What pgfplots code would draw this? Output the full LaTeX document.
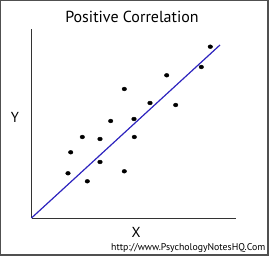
\documentclass[border=0pt]{standalone}
\usepackage{pgfplots}
\pgfplotsset{compat=1.18}
\usepackage{fontspec}
\setmainfont{PT Sans}
\definecolor{lineblue}{RGB}{45,35,190}
\definecolor{framegray}{RGB}{80,80,80}
\begin{document}
\begin{tikzpicture}[x=1pt,y=1pt]
\path[use as bounding box] (0,0) rectangle (269,256);
\draw[framegray, line width=1.5pt] (0.75,0.75) rectangle (268.25,255.25);
\begin{axis}[
  at={(31.5pt,38pt)}, anchor=south west,
  scale only axis, width=204.5pt, height=189pt,
  xmin=0, xmax=204.5, ymin=0, ymax=189,
  axis lines=left,
  axis line style={-, black!80, line width=0.8pt},
  ticks=none, clip=false,
]
\addplot[lineblue, line width=1.2pt] coordinates {(0,0) (188.5,173)};
\addplot[only marks, mark=*, mark size=2.3pt, mark options={fill=black, draw=black, yscale=0.82}] coordinates {
(178.8,171.3) (169.8,151) (135.2,142.7) (92.8,129) (118.5,115) (144.2,113)
(102.5,99) (79.2,97) (50.8,81) (68.5,79) (102.8,81) (39.2,65.7)
(68.5,56) (36.5,44.7) (92.8,46.7) (55.8,36.7)
};
\end{axis}
\node[font=\fontsize{16}{18}\selectfont] at (132,239.3) {Positive Correlation};
\node[font=\fontsize{14.5}{16}\selectfont] at (15,138.3) {Y};
\node[font=\fontsize{14.5}{16}\selectfont] at (136,24) {X};
\node[anchor=east, font=\fontsize{9.8}{11}\selectfont, inner sep=0pt] at (265.5,8) {http://www.PsychologyNotesHQ.Com};
\end{tikzpicture}
\end{document}
